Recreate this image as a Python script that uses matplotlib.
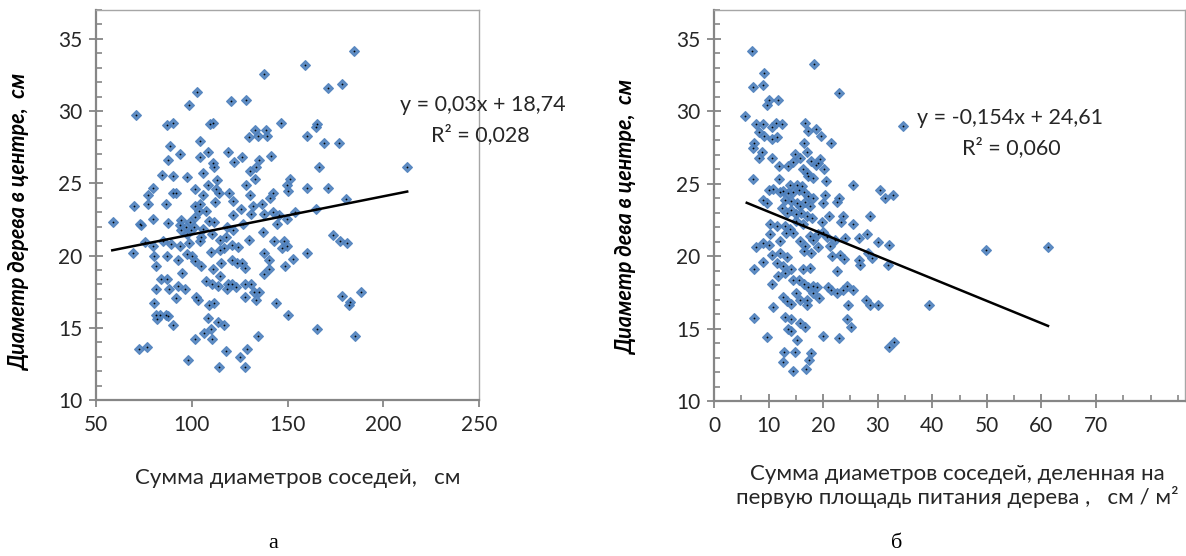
import matplotlib
matplotlib.use("Agg")
import matplotlib.pyplot as plt
from matplotlib.ticker import MultipleLocator
import numpy as np

# ---------------- data ----------------
# panel a: sum of neighbour diameters (cm) vs centre tree diameter (cm)
a_x = [184.5, 159.2, 137.9, 178.2, 171.4, 102.8, 98.6, 120.4, 128.3, 71.0,
       87.2, 90.3, 109.6, 111.1, 146.6, 165.3, 165.0, 160.4, 133.0, 134.6,
       139.0, 139.5, 130.0, 169.3, 177.0, 104.5, 88.6, 108.7, 118.9, 93.8,
       104.1, 126.0, 141.4, 135.0, 87.6, 122.1, 111.1, 166.3, 212.3, 111.6,
       133.5, 130.3, 84.6, 90.3, 97.7, 105.7, 151.3, 132.9, 113.0, 108.7,
       128.3, 149.5, 79.9, 160.4, 171.2, 101.9, 112.6, 150.0, 77.3, 90.0,
       91.9, 119.5, 130.3, 142.6, 114.0, 106.1, 180.3, 140.8, 76.9, 86.3,
       121.6, 136.6, 112.0, 104.1, 69.9, 101.9, 125.8, 132.1, 164.9, 103.8,
       107.6, 153.8, 142.2, 137.9, 130.7, 101.7, 121.6, 145.7, 149.5, 58.7,
       72.9, 73.6, 87.6, 94.2, 99.0, 109.0, 111.5, 126.9, 144.5, 79.7,
       93.7, 94.5, 96.8, 99.4, 101.0, 106.1, 110.6, 118.2, 121.6, 137.4,
       97.5, 104.8, 115.0, 118.1, 129.9, 143.1, 148.1, 173.5, 177.2, 181.0,
       89.3, 93.7, 98.6, 75.5, 79.7, 85.0, 104.1, 121.2, 124.4, 149.5,
       147.1, 115.0, 117.0, 69.2, 80.3, 87.3, 97.5, 100.0, 110.1, 160.4,
       137.9, 92.6, 101.7, 104.8, 120.9, 123.7, 126.5, 115.5, 140.5, 153.1,
       81.4, 111.1, 127.7, 148.9, 140.5, 95.1, 115.0, 137.9, 84.2, 87.2,
       107.6, 110.4, 113.8, 119.1, 121.2, 127.7, 130.7, 92.6, 88.1, 96.4,
       81.2, 118.6, 123.3, 132.6, 135.2, 188.3, 178.7, 102.4, 103.5, 127.7,
       133.4, 91.9, 80.3, 108.9, 111.7, 144.0, 181.9, 182.8, 81.4, 83.4,
       86.3, 87.4, 82.1, 108.7, 150.3, 90.2, 113.8, 116.8, 110.0, 106.2,
       165.3, 185.0, 101.6, 110.8, 134.7, 72.7, 76.7, 118.1, 129.0, 125.1,
       98.0, 114.1, 127.7]
a_y = [34.15, 33.2, 32.6, 31.9, 31.6, 31.3, 30.4, 30.7, 30.8, 29.7,
       29.05, 29.2, 29.1, 29.2, 29.2, 29.1, 28.9, 28.3, 28.7, 28.3,
       28.7, 28.3, 28.2, 27.8, 27.8, 27.9, 27.6, 27.2, 27.2, 27.0,
       26.8, 26.8, 26.9, 26.6, 26.6, 26.5, 26.4, 26.1, 26.1, 26.1,
       26.1, 25.85, 25.55, 25.5, 25.45, 25.7, 25.3, 25.3, 25.2, 24.9,
       24.9, 24.85, 24.65, 24.7, 24.65, 24.6, 24.6, 24.5, 24.2, 24.3,
       24.3, 24.3, 24.2, 24.3, 24.3, 24.2, 23.9, 24.0, 23.6, 23.6,
       23.75, 23.6, 23.7, 23.6, 23.4, 23.4, 23.25, 23.4, 23.2, 23.1,
       23.1, 23.0, 23.0, 22.9, 22.9, 22.7, 22.8, 22.8, 22.55, 22.3,
       22.2, 22.1, 22.25, 22.45, 22.3, 22.4, 22.3, 22.2, 22.2, 22.5,
       22.1, 21.75, 22.0, 21.75, 22.0, 21.85, 21.5, 22.0, 21.75, 21.6,
       21.5, 21.3, 21.05, 21.25, 21.1, 21.0, 21.0, 21.45, 21.0, 20.9,
       20.8, 20.65, 20.9, 20.95, 20.65, 21.0, 21.0, 20.7, 20.6, 20.65,
       20.5, 20.35, 20.5, 20.15, 19.95, 20.0, 20.1, 20.0, 20.25, 20.15,
       20.2, 19.7, 19.6, 19.3, 19.7, 19.5, 19.45, 19.45, 19.7, 19.75,
       19.3, 19.1, 19.15, 19.25, 19.05, 18.8, 18.6, 18.7, 18.4, 18.4,
       18.25, 18.0, 17.9, 18.0, 18.0, 18.0, 18.0, 17.9, 17.7, 17.7,
       17.7, 17.65, 17.8, 17.5, 17.45, 17.45, 17.2, 17.15, 16.95, 17.1,
       16.9, 17.05, 16.7, 16.55, 16.7, 16.7, 16.6, 16.8, 15.9, 15.9,
       15.9, 15.8, 15.6, 15.7, 15.9, 15.2, 15.4, 15.2, 14.9, 14.65,
       14.9, 14.45, 14.2, 14.2, 14.4, 13.55, 13.7, 13.4, 13.5, 12.95,
       12.8, 12.3, 12.25]

# panel b: sum of neighbour diameters per feeding area (cm/m2) vs centre diameter (cm)
b_x = [6.9, 18.4, 9.1, 7.2, 8.9, 22.9, 9.8, 10.1, 11.7, 5.7,
       7.7, 9.0, 10.6, 11.4, 12.4, 34.6, 8.3, 9.1, 10.6, 11.5,
       16.6, 17.3, 18.6, 19.6, 16.5, 21.4, 7.4, 7.1, 8.8, 17.1,
       8.3, 10.6, 14.9, 15.8, 14.4, 13.6, 12.0, 17.7, 18.6, 19.1,
       20.2, 19.4, 16.3, 17.0, 17.3, 18.2, 7.2, 12.0, 20.5, 25.4,
       13.9, 15.2, 16.1, 10.0, 10.9, 12.1, 12.6, 13.5, 14.4, 15.5,
       16.4, 17.2, 18.2, 20.4, 22.9, 22.5, 30.4, 31.4, 32.8, 8.9,
       9.7, 13.0, 14.1, 15.2, 15.8, 16.7, 17.6, 19.9, 12.4, 13.3,
       14.2, 15.0, 16.0, 17.0, 17.9, 21.0, 23.6, 28.6, 10.3, 11.5,
       13.0, 13.9, 15.0, 16.3, 19.7, 23.3, 25.4, 10.2, 12.1, 13.2,
       14.4, 15.8, 16.7, 17.5, 18.2, 19.1, 19.9, 20.7, 21.3, 22.2,
       24.0, 26.5, 28.0, 30.0, 32.0, 9.0, 7.7, 10.0, 16.4, 17.8,
       19.1, 10.6, 12.1, 13.3, 21.6, 23.1, 23.9, 26.5, 26.8, 28.3,
       28.9, 31.8, 49.9, 61.2, 8.9, 11.5, 12.7, 14.2, 16.3, 17.6,
       7.4, 22.6, 11.8, 13.0, 14.4, 15.5, 10.6, 16.5, 17.3, 18.2,
       18.9, 20.8, 21.4, 22.6, 23.7, 24.3, 25.5, 15.0, 15.8, 17.0,
       18.2, 12.6, 13.3, 14.2, 19.2, 27.9, 28.6, 30.1, 24.6, 10.8,
       17.1, 39.4, 7.4, 13.1, 14.1, 15.8, 16.7, 13.6, 14.2, 24.3,
       25.1, 9.7, 15.2, 19.9, 22.9, 32.0, 32.9, 12.8, 14.9, 17.7,
       12.7, 17.4, 14.4, 16.8]
b_y = [34.15, 33.27, 32.65, 31.65, 31.8, 31.3, 30.45, 30.8, 30.8, 29.65,
       29.1, 29.1, 28.9, 29.2, 29.1, 29.0, 28.55, 28.3, 28.1, 28.25,
       29.2, 28.65, 28.75, 28.3, 27.85, 27.85, 27.85, 27.45, 27.2, 27.2,
       26.8, 26.75, 27.05, 26.75, 26.5, 26.2, 26.2, 26.55, 26.3, 26.45,
       26.05, 26.7, 26.0, 25.75, 25.55, 25.4, 25.35, 25.3, 25.2, 24.95,
       24.95, 24.95, 24.85, 24.6, 24.65, 24.4, 24.5, 24.35, 24.4, 24.55,
       24.4, 24.15, 24.05, 24.25, 24.05, 23.75, 24.55, 24.05, 24.2, 23.85,
       23.7, 23.9, 23.8, 23.7, 23.45, 23.75, 23.5, 23.65, 23.3, 23.0,
       23.2, 22.9, 23.0, 22.75, 22.65, 22.8, 22.8, 22.75, 22.25, 22.1,
       22.05, 21.85, 22.4, 22.25, 22.35, 22.35, 22.25, 21.5, 21.05, 21.6,
       21.6, 21.05, 20.7, 21.4, 21.15, 21.5, 21.65, 21.35, 20.7, 21.1,
       21.25, 21.25, 21.55, 20.95, 20.8, 20.9, 20.65, 20.75, 20.35, 20.25,
       20.65, 20.05, 20.25, 19.95, 20.0, 20.05, 19.8, 19.75, 19.4, 20.2,
       19.9, 19.4, 20.4, 20.65, 19.6, 19.55, 19.3, 19.1, 19.1, 19.2,
       19.1, 18.95, 18.6, 18.85, 18.35, 18.35, 18.1, 18.05, 17.85, 17.95,
       17.85, 17.85, 17.65, 17.45, 17.65, 17.95, 17.65, 17.45, 17.0, 17.0,
       17.45, 17.2, 16.9, 16.7, 17.1, 17.0, 16.65, 16.65, 16.65, 16.5,
       16.6, 16.65, 15.7, 15.8, 15.65, 15.4, 15.1, 14.95, 14.85, 15.65,
       15.1, 14.4, 14.2, 14.5, 14.35, 13.7, 14.1, 13.4, 13.4, 13.3,
       12.7, 12.8, 12.1, 12.2]

# trend lines (as drawn): slope, intercept, x range
a_trend = dict(slope=0.0264, intercept=18.82, x=[58.5, 212.5])
b_trend = dict(slope=-0.154, intercept=24.61, x=[6.0, 61.2])

a_eq = ["y = 0,03x + 18,74", "R² = 0,028"]
b_eq = ["y = -0,154x + 24,61", "R² = 0,060"]

a_xlabel = "Сумма диаметров соседей,   см"
b_xlabel = "Сумма диаметров соседей, деленная на\nпервую площадь питания дерева ,   см / м²"
a_ylabel = "Диаметр дерева в центре,  см"
b_ylabel = "Диаметр дева в центре,  см"
a_xticks = [50, 100, 150, 200, 250]
b_xticks = [0, 10, 20, 30, 40, 50, 60, 70]
yticks = [10, 15, 20, 25, 30, 35]

# ---------------- figure ----------------
W, H = 1186, 556
fig = plt.figure(figsize=(W / 100, H / 100), dpi=100)
SANS = ['Lato', 'Open Sans', 'DejaVu Sans']
plt.rcParams['font.family'] = SANS

BLUE = '#4F81BD'
AXC = '#868686'
FRAME = '#A6A6A6'
TXT = '#262626'
TICKFS = 15


def px(x0, y0, x1, y1):
    return [x0 / W, 1 - y1 / H, (x1 - x0) / W, (y1 - y0) / H]


def style(ax, xlim, xticks, xminor):
    ax.set_xlim(*xlim)
    ax.set_ylim(10, 37)
    ax.set_xticks(xticks)
    ax.set_yticks(yticks)
    ax.yaxis.set_minor_locator(MultipleLocator(1))
    if xminor:
        ax.xaxis.set_minor_locator(MultipleLocator(xminor))
    for s in ['left', 'bottom']:
        ax.spines[s].set_color(AXC)
        ax.spines[s].set_linewidth(1.6)
    for s in ['top', 'right']:
        ax.spines[s].set_color(FRAME)
        ax.spines[s].set_linewidth(1.0)
    ax.tick_params(axis='y', which='major', direction='inout', length=10,
                   width=1.3, color=AXC, labelsize=TICKFS, labelcolor=TXT, pad=5)
    ax.tick_params(axis='y', which='minor', direction='in', length=4,
                   width=1.2, color=AXC)
    ax.tick_params(axis='x', which='major', direction='inout' if xminor else 'out',
                   length=10 if xminor else 5, width=1.3, color=AXC,
                   labelsize=TICKFS, labelcolor=TXT, pad=6)
    ax.tick_params(axis='x', which='minor', direction='in', length=4,
                   width=1.2, color=AXC)
    ax.tick_params(top=False, right=False, which='both')


def draw(ax, xs, ys, trend):
    ax.plot(xs, ys, linestyle='none', marker='D', ms=4.8, mfc=BLUE,
            mec=BLUE, mew=0.8, alpha=0.9, zorder=3)
    ax.plot(xs, ys, linestyle='none', marker='o', ms=1.3, mfc='black',
            mec='black', mew=0, zorder=4)
    tx = np.array(trend['x'])
    ax.plot(tx, trend['slope'] * tx + trend['intercept'], color='black',
            lw=1.8, zorder=5)


ax1 = fig.add_axes(px(96, 10, 479, 400))
style(ax1, (50, 250), a_xticks, None)
draw(ax1, a_x, a_y, a_trend)

ax2 = fig.add_axes(px(714, 10, 1185, 401))
style(ax2, (0, 86.3), b_xticks, 5)
draw(ax2, b_x, b_y, b_trend)

EQFS = 15.5
fig.text(483 / W, 1 - 105 / H, a_eq[0], ha='center', va='center',
         fontsize=EQFS, color=TXT)
fig.text(480 / W, 1 - 135 / H, a_eq[1], ha='center', va='center',
         fontsize=EQFS, color=TXT)
fig.text(1010 / W, 1 - 118 / H, b_eq[0], ha='center', va='center',
         fontsize=EQFS, color=TXT)
fig.text(1011 / W, 1 - 148 / H, b_eq[1], ha='center', va='center',
         fontsize=EQFS, color=TXT)

# axis labels
fig.text(20 / W, 1 - 222 / H, a_ylabel, rotation=90, ha='center', va='center',
         fontsize=15.5, fontweight='bold', fontstyle='italic', color='black')
fig.text(627 / W, 1 - 217 / H, b_ylabel, rotation=90, ha='center', va='center',
         fontsize=15.5, fontweight='bold', fontstyle='italic', color='black')
fig.text(298 / W, 1 - 478 / H, a_xlabel, ha='center', va='center',
         fontsize=16, color=TXT)
fig.text(957 / W, 1 - 486 / H, b_xlabel, ha='center', va='center',
         fontsize=16, color=TXT, linespacing=1.15)

# panel letters
fig.text(273 / W, 1 - 544 / H, "а", ha='center', va='center', fontsize=16,
         family=['Liberation Serif', 'DejaVu Serif'], color='black')
fig.text(897 / W, 1 - 544 / H, "б", ha='center', va='center', fontsize=16,
         family=['Liberation Serif', 'DejaVu Serif'], color='black')

fig.savefig("out.png", dpi=100)
